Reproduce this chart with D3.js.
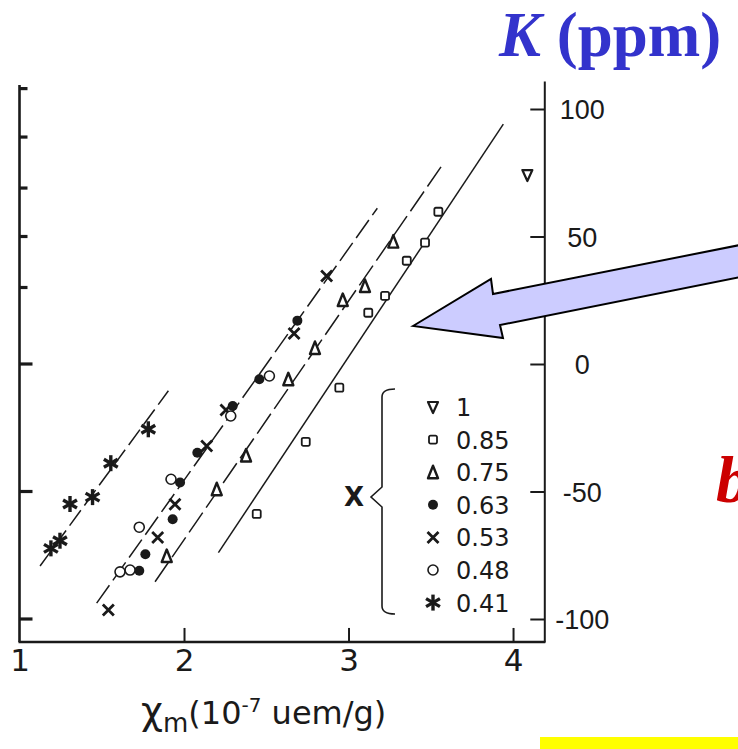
<!DOCTYPE html>
<html>
<head>
  <meta charset="utf-8">
  <title>K vs chi_m</title>
  <script src="https://d3js.org/d3.v7.min.js"></script>
  <style>
    html, body { margin: 0; background: #fff; overflow: hidden; }
    #chart { width: 738px; height: 749px; }
  </style>
</head>
<body>
  <div id="chart"></div>
  <script>
    // legend entries (x value of the sample) and their marker
    const seriesLabels = ["1", "0.85", "0.75", "0.63", "0.53", "0.48", "0.41"];
    const seriesShapes = ["invtri", "square", "tri", "dot", "cross", "circle", "star"];

    // [chi_m (1e-7 uem/g), K (ppm)]
    const s100 = [[4.087, 74.1]];
    const s085 = [[2.442, -58.8], [2.740, -30.5], [2.944, -9.3], [3.120, 20.1],
                  [3.222, 26.7], [3.354, 40.5], [3.465, 47.6], [3.546, 59.7]];
    const s075 = [[1.895, -75.3], [2.199, -49.1], [2.377, -35.9], [2.634, -6.0],
                  [2.796, 6.3], [2.965, 25.1], [3.100, 30.6], [3.272, 48.0]];
    const s063 = [[1.728, -81.1], [1.765, -74.6], [1.931, -60.9], [1.976, -46.5],
                  [2.081, -34.8], [2.296, -16.5], [2.458, -6.0], [2.689, 17.0]];
    const s053 = [[1.540, -96.5], [1.840, -68.0], [1.945, -55.0], [2.138, -32.2],
                  [2.255, -18.0], [2.669, 12.0], [2.867, 34.5]];
    const s048 = [[1.611, -81.5], [1.672, -80.8], [1.728, -64.0], [1.921, -45.2],
                  [2.284, -20.4], [2.519, -4.7]];
    const s041 = [[1.191, -72.3], [1.246, -69.3], [1.307, -54.9], [1.444, -52.2],
                  [1.555, -38.9], [1.783, -25.6]];
    const allSeries = [s100, s085, s075, s063, s053, s048, s041];

    // fitted straight lines, [start, end]
    const fitStar = [[1.125, -79.2], [1.905, -10.5]];
    const fitMid = [[1.469, -93.8], [3.175, 61.1]];
    const fitTri = [[1.824, -85.4], [3.562, 77.3]];
    const fitSquare = [[2.209, -74.0], [3.941, 94.1]];

    const xTicks = [1, 2, 3, 4];
    const yTicks = [-100, -50, 0, 50, 100];
    const leftTicks = [108, 89, 69, 50, 30, 0, -50, -100];

    const W = 738, H = 749;
    const ink = '#1a1a1a';

    const svg = d3.select('#chart')
      .append('svg')
      .attr('width', W)
      .attr('height', H);

    svg.append('rect')
      .attr('width', W)
      .attr('height', H)
      .attr('fill', '#fff');

    const x = d3.scaleLinear().domain([1, 4.19]).range([19.5, 544.3]);
    const y = d3.scaleLinear().domain([-109, 111]).range([641.95, 80.95]);

    // frame lines
    svg.append('line')
      .attr('x1', x(1)).attr('x2', x(1))
      .attr('y1', 85).attr('y2', y(-109))
      .attr('stroke', ink).attr('stroke-width', 2.6);
    svg.append('line')
      .attr('x1', x(1) - 1).attr('x2', x(4.19) + 1)
      .attr('y1', y(-109)).attr('y2', y(-109))
      .attr('stroke', ink).attr('stroke-width', 2.6);

    // left ticks (inside, bold)
    svg.append('g')
      .selectAll('line')
      .data(leftTicks)
      .enter().append('line')
      .attr('x1', x(1))
      .attr('x2', d => d <= 0 ? x(1) + 13 : x(1) + 8)
      .attr('y1', d => y(d)).attr('y2', d => y(d))
      .attr('stroke', ink).attr('stroke-width', 3.2);

    // right axis
    const rightAxis = svg.append('g')
      .attr('transform', `translate(${x(4.19)},0)`)
      .call(d3.axisRight(y).tickValues(yTicks).tickSize(-14).tickSizeOuter(0)
        .tickPadding(0).tickFormat(d => String(d)));
    rightAxis.select('.domain').attr('stroke', ink).attr('stroke-width', 2);
    rightAxis.selectAll('.tick line').attr('stroke', ink).attr('stroke-width', 2);
    rightAxis.selectAll('.tick text')
      .attr('x', 38)
      .attr('dy', '0.36em')
      .attr('text-anchor', 'middle')
      .attr('fill', ink)
      .attr('font-family', 'Liberation Sans, Arial, sans-serif')
      .attr('font-size', 27);

    // bottom axis
    const bottomAxis = svg.append('g')
      .attr('transform', `translate(0,${y(-109)})`)
      .call(d3.axisBottom(x).tickValues(xTicks).tickSize(-14).tickSizeOuter(0)
        .tickFormat(d => String(d)));
    bottomAxis.select('.domain').remove();
    bottomAxis.selectAll('.tick line')
      .attr('stroke', ink).attr('stroke-width', 2)
      .attr('display', d => d === 1 ? 'none' : null);
    bottomAxis.selectAll('.tick text')
      .attr('y', 29)
      .attr('dy', 0)
      .attr('fill', ink)
      .attr('font-family', 'DejaVu Sans, sans-serif')
      .attr('font-size', 31);

    // x axis title
    const xt = svg.append('text')
      .attr('x', 141).attr('y', 724)
      .attr('fill', ink)
      .attr('font-family', 'DejaVu Sans, sans-serif');
    xt.append('tspan').attr('font-size', 38).text('χ');
    xt.append('tspan').attr('font-size', 26).attr('dy', 8).text('m');
    xt.append('tspan').attr('font-size', 32).attr('dy', -8).text('(10');
    xt.append('tspan').attr('font-size', 20).attr('dy', -12).text('-7');
    xt.append('tspan').attr('font-size', 32).attr('dy', 12).text(' uem/g)');

    // fit lines
    const line = d3.line().x(d => x(d[0])).y(d => y(d[1]));
    const fits = [fitStar, fitMid, fitTri, fitSquare];
    const fitDash = ['19,6', '22,6', '24,6', null];
    svg.append('g')
      .selectAll('path')
      .data(fits)
      .enter().append('path')
      .attr('d', d => line(d))
      .attr('fill', 'none')
      .attr('stroke', ink)
      .attr('stroke-width', 1.5)
      .attr('stroke-dasharray', (d, i) => fitDash[i]);

    // markers
    function drawSymbol(g, type, cx, cy) {
      const s = g.append('g').attr('transform', `translate(${cx},${cy})`);
      if (type === 'invtri') {
        s.append('path').attr('d', 'M-5,-5L5,-5L0,6Z')
          .attr('fill', '#fff').attr('stroke', ink).attr('stroke-width', 2.2)
          .attr('stroke-linejoin', 'round');
      } else if (type === 'square') {
        s.append('rect').attr('x', -4).attr('y', -4).attr('width', 8).attr('height', 8)
          .attr('rx', 1.5).attr('fill', '#fff').attr('stroke', ink).attr('stroke-width', 1.8);
      } else if (type === 'tri') {
        s.append('path').attr('d', 'M0,-6.5L5,6L-5,6Z')
          .attr('fill', '#fff').attr('stroke', ink).attr('stroke-width', 2.4)
          .attr('stroke-linejoin', 'round');
      } else if (type === 'dot') {
        s.append('circle').attr('r', 5).attr('fill', ink);
      } else if (type === 'cross') {
        s.append('path').attr('d', 'M-5.5,-5.5L5.5,5.5M-5.5,5.5L5.5,-5.5')
          .attr('stroke', ink).attr('stroke-width', 2.8);
      } else if (type === 'circle') {
        s.append('circle').attr('r', 5).attr('fill', '#fff')
          .attr('stroke', ink).attr('stroke-width', 1.6);
      } else if (type === 'star') {
        [90, 30, 150].forEach(a => {
          const r = a * Math.PI / 180;
          const dx = 8 * Math.cos(r), dy = 8 * Math.sin(r);
          s.append('line').attr('x1', -dx).attr('y1', -dy).attr('x2', dx).attr('y2', dy)
            .attr('stroke', ink).attr('stroke-width', 3.4);
        });
      }
    }

    const pts = svg.append('g');
    allSeries.forEach((data, i) => {
      data.forEach(d => drawSymbol(pts, seriesShapes[i], x(d[0]), y(d[1])));
    });

    // legend
    const legend = svg.append('g');
    legend.append('path')
      .attr('d', 'M395,389 Q382,389 382,397 L382,487 L371,497 L382,507 L382,606 Q382,614 395,614')
      .attr('fill', 'none').attr('stroke', ink).attr('stroke-width', 1.6);
    legend.append('text')
      .attr('x', 354).attr('y', 506)
      .attr('text-anchor', 'middle')
      .attr('fill', ink)
      .attr('font-family', 'DejaVu Sans, sans-serif')
      .attr('font-weight', 'bold')
      .attr('font-size', 26)
      .text('X');
    seriesLabels.forEach((lab, i) => {
      const ly = 407 + i * 32.6;
      drawSymbol(legend, seriesShapes[i], 433, ly);
      legend.append('text')
        .attr('x', 456).attr('y', ly + 9)
        .attr('fill', ink)
        .attr('font-family', 'DejaVu Sans, sans-serif')
        .attr('font-size', 24)
        .text(lab);
    });

    // arrow annotation
    svg.append('path')
      .attr('d', 'M413,326 L491,279 L493,294 L745,244 L745,276 L500,325 L503,338 Z')
      .attr('fill', '#ccccff')
      .attr('stroke', '#000')
      .attr('stroke-width', 2)
      .attr('stroke-linejoin', 'miter');

    // K (ppm) title
    const kt = svg.append('text')
      .attr('x', 499).attr('y', 56)
      .attr('fill', '#3333cc')
      .attr('font-family', 'Liberation Serif, Times New Roman, serif')
      .attr('font-weight', 'bold')
      .attr('font-size', 63);
    kt.append('tspan').attr('font-style', 'italic').text('K');
    kt.append('tspan').text(' (ppm)');

    // red "b"
    svg.append('text')
      .attr('x', 716).attr('y', 502)
      .attr('fill', '#cc0000')
      .attr('font-family', 'Liberation Serif, Times New Roman, serif')
      .attr('font-weight', 'bold')
      .attr('font-style', 'italic')
      .attr('font-size', 66)
      .text('b');

    // yellow strip
    svg.append('rect')
      .attr('x', 540).attr('y', 737)
      .attr('width', 198).attr('height', 12)
      .attr('fill', '#ffff00');
  </script>
</body>
</html>
